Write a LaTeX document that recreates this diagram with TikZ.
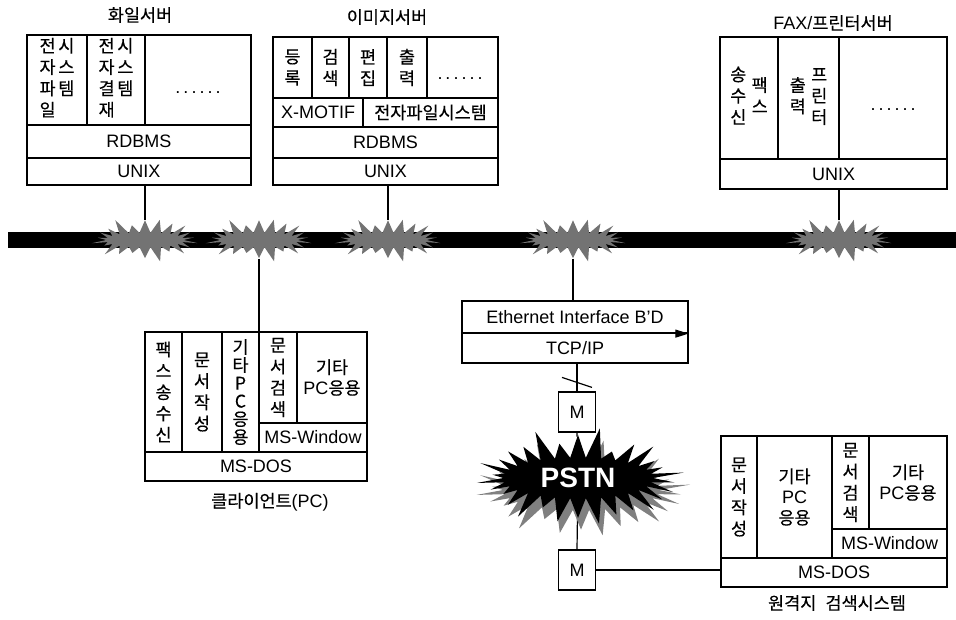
\documentclass[tikz,border=0pt]{standalone}
\usepackage{fontspec}
\setmainfont{Liberation Sans}
\newfontfamily\kr{Noto Sans CJK KR}[Scale=0.97, FakeBold=0.35]
\usetikzlibrary{shapes.symbols, arrows.meta, calc, backgrounds}

\begin{document}
\begin{tikzpicture}[x=0.75pt, y=-0.75pt,
    sz/.style 2 args = {minimum width=#1*0.75pt, minimum height=#2*0.75pt},
    cell/.style   = {draw, line width=0.9pt, inner sep=0pt, align=center,
                     font=\fontsize{13.5}{15.5}\selectfont},
    kcell/.style  = {cell, font=\fontsize{13.5}{16}\selectfont\kr},
    title/.style  = {font=\fontsize{13.5}{15.5}\selectfont\kr},
    dotrow/.style = {font=\fontsize{13.5}{15.5}\selectfont},
    modem/.style  = {draw, line width=0.9pt, sz={37}{40},
                     inner sep=0pt, font=\fontsize{13.5}{15.5}\selectfont},
    burst/.style  = {starburst, starburst points=22, starburst point height=13pt,
                     fill=black!55, draw=none, minimum width=84pt, minimum height=37pt},
    link/.style   = {line width=0.9pt},
    bus/.style    = {line width=12pt},
]
\useasboundingbox (0,0) rectangle (956,619);

% 화일서버
\node[title] (fstitle) at (140,15) {화일서버};
\node[kcell, sz={60}{90}] (fs1) at (57,80)
  {\begin{tabular}{@{}c@{\hspace{2pt}}c@{}}전&시\\자&스\\파&템\\일&\end{tabular}};
\node[kcell, sz={58}{90}] (fs2) at (116,80)
  {\begin{tabular}{@{}c@{\hspace{2pt}}c@{}}전&시\\자&스\\결&템\\재&\end{tabular}};
\node[cell, sz={106}{90}] (fs3) at (198,80) {};
\node[dotrow] (fsdots) at (198,93) {.\,.\,.\,.\,.\,.};
\node[cell, sz={224}{33}] (fsdb) at (139,141.5) {RDBMS};
\node[cell, sz={224}{27}] (fsos) at (139,171.5) {UNIX};

% 이미지서버
\node[title] (istitle) at (387,17) {이미지서버};
\node[kcell, sz={39}{61}] (is1) at (292.5,67.5) {등\\록};
\node[kcell, sz={37}{61}] (is2) at (330.5,67.5) {검\\색};
\node[kcell, sz={38}{61}] (is3) at (368,67.5) {편\\집};
\node[kcell, sz={40}{61}] (is4) at (407,67.5) {출\\력};
\node[cell, sz={71}{61}] (is5) at (462.5,67.5) {};
\node[dotrow] (isdots) at (460,79) {.\,.\,.\,.\,.\,.};
\node[cell, sz={90}{29}] (isx) at (318,112.5) {X-MOTIF};
\node[kcell, sz={135}{29}] (isf) at (430.5,112.5) {전자파일시스템};
\node[cell, sz={225}{31}] (isdb) at (385.5,142.5) {RDBMS};
\node[cell, sz={225}{27}] (isos) at (385.5,171.5) {UNIX};

% FAX/프린터서버
\node[title] (fxtitle) at (833,23) {{\rmfamily FAX/}프린터서버};
\node[kcell, sz={58}{122}] (fx1) at (749,98)
  {\begin{tabular}{@{}c@{}}송\\수\\신\end{tabular}\hspace{4pt}\begin{tabular}{@{}c@{}}팩\\스\end{tabular}};
\node[kcell, sz={61}{122}] (fx2) at (808.5,98)
  {\begin{tabular}{@{}c@{}}출\\력\end{tabular}\hspace{4pt}\begin{tabular}{@{}c@{}}프\\린\\터\end{tabular}};
\node[cell, sz={108}{122}] (fx3) at (893,98) {};
\node[dotrow] (fxdots) at (893,110) {.\,.\,.\,.\,.\,.};
\node[cell, sz={227}{30}] (fxos) at (833.5,174) {UNIX};

% 클라이언트(PC)
\node[kcell, sz={37}{120}] (pc1) at (163.5,392) {팩\\스\\송\\수\\신};
\node[kcell, sz={40}{120}] (pc2) at (202,392) {문\\서\\작\\성};
\node[kcell, sz={37}{120}, font=\fontsize{13.5}{13.5}\selectfont\kr] (pc3) at (240.5,392) {기\\타\\P\\C\\응\\용};
\node[kcell, sz={38}{91}] (pc4) at (278,377.5) {문\\서\\검\\색};
\node[cell, sz={70}{91}] (pc5) at (332,377.5) {{\kr 기타}\\PC{\kr 응용}};
\node[cell, sz={108}{29}] (pcwin) at (313,437.5) {MS-Window};
\node[cell, sz={222}{29}] (pcos) at (256,466.5) {MS-DOS};
\node[title] (pctitle) at (270,502) {클라이언트{\rmfamily (PC)}};

% Ethernet 보드
\node[cell, sz={226}{32}] (eth) at (575,317) {Ethernet Interface B'D};
\node[cell, sz={226}{30}] (tcp) at (575,348) {TCP/IP};
\draw[link, -{Triangle[length=10pt, width=6pt]}] (eth.south west) -- (eth.south east);

% 모뎀과 PSTN
\node[modem] (m1) at (577,412) {M};
\node[burst, fill=black!50, minimum width=165pt, minimum height=78pt,
      starburst points=30, starburst point height=24pt] (pstnshade) at (581,490) {};
\node[burst, fill=black, minimum width=160pt, minimum height=76pt,
      starburst points=30, starburst point height=24pt, text=white,
      font=\fontsize{21}{24}\selectfont\bfseries] (pstn) at (578,478) {PSTN};
\node[modem] (m2) at (577,570) {M};

% 원격지 검색시스템
\node[kcell, sz={36}{122}] (rm1) at (739,497) {문\\서\\작\\성};
\node[cell, sz={75}{122}] (rm2) at (794.5,497) {{\kr 기타}\\PC\\{\kr 응용}};
\node[kcell, sz={37}{93}] (rm3) at (850.5,482.5) {문\\서\\검\\색};
\node[cell, sz={78}{93}] (rm4) at (908,482.5) {{\kr 기타}\\PC{\kr 응용}};
\node[cell, sz={115}{29}] (rmwin) at (889.5,543.5) {MS-Window};
\node[cell, sz={226}{29}] (rmos) at (834,572.5) {MS-DOS};
\node[title] (rmtitle) at (837,603) {원격지\hspace{4pt} 검색시스템};

% LAN
\coordinate (busL) at (8,240);
\coordinate (busR) at (956,240);
\node[burst] (b1) at (145,240) {};
\node[burst] (b2) at (259,240) {};
\node[burst] (b3) at (388,240) {};
\node[burst] (b4) at (573,240) {};
\node[burst] (b5) at (839,240) {};

\begin{scope}[on background layer]
  \draw[bus] (busL) -- (busR);
  \draw[link] (b1 |- fsos.south) -- (b1);
  \draw[link] (b3 |- isos.south) -- (b3);
  \draw[link] (b5 |- fxos.south) -- (b5);
  \draw[link, line width=1.4pt] (b2) -- (b2 |- pc1.north);
  \draw[link] (b4) -- (b4 |- eth.north);
  \draw[link] (m1 |- tcp.south) -- (m1.north);
  \draw[link] ($(m1.north)+(-15,-14)$) -- ++(30,10);
  \draw[link] (m1.south) -- (pstn);
  \draw[link] (pstn) -- (m2.north);
  \draw[link] (m2.east) -- (m2.east -| rmos.west);
\end{scope}

\end{tikzpicture}
\end{document}
